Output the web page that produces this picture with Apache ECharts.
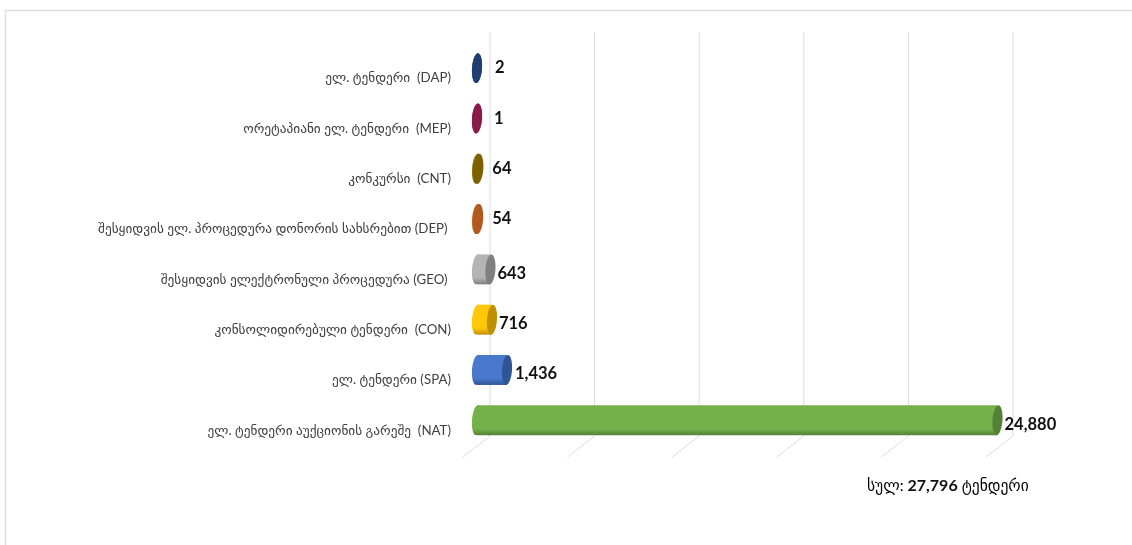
<!DOCTYPE html>
<html><head><meta charset="utf-8">
<style>html,body{margin:0;padding:0;background:#fff}#c{width:1132px;height:545px}</style>
<script src="https://cdn.jsdelivr.net/npm/echarts@6/dist/echarts.min.js"></script>
</head><body><div id="c"></div>
<script>
const categories = [
  'ელ. ტენდერი  (DAP)',
  'ორეტაპიანი ელ. ტენდერი  (MEP)',
  'კონკურსი  (CNT)',
  'შესყიდვის ელ. პროცედურა დონორის სახსრებით (DEP) ',
  'შესყიდვის ელექტრონული პროცედურა (GEO) ',
  'კონსოლიდირებული ტენდერი  (CON)',
  'ელ. ტენდერი (SPA)',
  'ელ. ტენდერი აუქციონის გარეშე  (NAT)'
];
const values = [2, 1, 64, 54, 643, 716, 1436, 24880];
const bodyColors = ['#2a4d80','#9a2350','#8f6f08','#c4682a','#b4b4b4','#ffc80a','#4a78cc','#74b14a'];
const capColors  = ['#1f3f70','#8a1a48','#7f6000','#b25a1e','#7f7f7f','#bf9000','#2f5597','#548235'];
const gridTicks = [0, 5000, 10000, 15000, 20000, 25000];
const totalParts = ['სულ: ', '27,796', ' ტენდერი'];

const FONT = 'Lato, "DejaVu Sans", sans-serif';
const labelGap = [18, 17, 14, 14, 7, 7, 8, 7];
const labelDrop = [0, 0, 0, 0, 4, 4, 4, 4];

const chart = echarts.init(document.getElementById('c'), null, {renderer:'canvas'});
chart.setOption({
  animation:false,
  backgroundColor:'#fff',
  title:{
    left:862, top:473,
    text:`{a|${totalParts[0]}}{b|${totalParts[1]}}{a|${totalParts[2]}}`,
    textStyle:{rich:{
      a:{fontFamily:FONT,fontSize:15.5,color:'#000',fontWeight:'normal'},
      b:{fontFamily:FONT,fontSize:16,color:'#111',fontWeight:'bold'}
    }}
  },
  graphic:[{type:'polyline',silent:true,z:-1,
    shape:{points:[[1132,10.5],[5.5,10.5],[5.5,545]]},
    style:{stroke:'#dedede',lineWidth:1.5,fill:null}}],
  grid:[
    {left:477,top:43,width:627.6,height:402.4},
    {left:477,top:53,width:627.6,height:402.4}
  ],
  xAxis:[
    {type:'value',gridIndex:0,min:0,max:30000,interval:5000,show:false},
    {type:'value',gridIndex:1,min:0,max:30000,interval:5000,show:false}
  ],
  yAxis:[
    {type:'category',gridIndex:0,inverse:true,data:categories,show:false},
    {type:'category',gridIndex:1,inverse:true,data:categories,
      axisLine:{show:false},axisTick:{show:false},
      axisLabel:{color:'#404040',fontFamily:FONT,fontSize:13.3,margin:26,align:'right'}}
  ],
  series:[
    {type:'custom',z:1,silent:true,coordinateSystem:'cartesian2d',xAxisIndex:0,yAxisIndex:0,
      data:gridTicks.map(t=>[t,0]),encode:{x:0,y:1},
      renderItem(p,api){
        const x=api.coord([api.value(0),categories[0]])[0]+13;
        return {type:'polyline',silent:true,
          shape:{points:[[x,32],[x,436],[x-27,457]]},
          style:{stroke:'#dcdcdc',lineWidth:1,fill:null}};
      }},
    {type:'custom',z:2,silent:true,coordinateSystem:'cartesian2d',xAxisIndex:0,yAxisIndex:0,
      data:values.map((v,i)=>[v,i]),encode:{x:0,y:1},
      renderItem(p,api){
        const i=p.dataIndex, v=api.value(0);
        const [x1,y]=api.coord([v,i]);
        const x0=api.coord([0,i])[0];
        const h=30, rx=5, tilt=-0.07;
        const grad=new echarts.graphic.LinearGradient(0,0,0,1,[
          {offset:0,color:bodyColors[i]},
          {offset:.78,color:bodyColors[i]},
          {offset:1,color:capColors[i]}]);
        return {type:'group',children:[
          {type:'ellipse',shape:{cx:0,cy:0,rx:rx,ry:h/2},x:x0,y:y,rotation:tilt,style:{fill:grad}},
          {type:'rect',shape:{x:x0,y:y-h/2,width:x1-x0,height:h},style:{fill:grad}},
          {type:'ellipse',shape:{cx:0,cy:0,rx:rx,ry:h/2},x:x1,y:y,rotation:tilt,style:{fill:capColors[i]}},
          {type:'text',x:x1+labelGap[i],y:y+labelDrop[i],
            style:{text:v.toLocaleString('en-US'),fontFamily:FONT,fontSize:16.5,fontWeight:'bold',fill:'#111',
              align:'left',verticalAlign:'middle'}}
        ]};
      }}
  ]
});
</script></body></html>
